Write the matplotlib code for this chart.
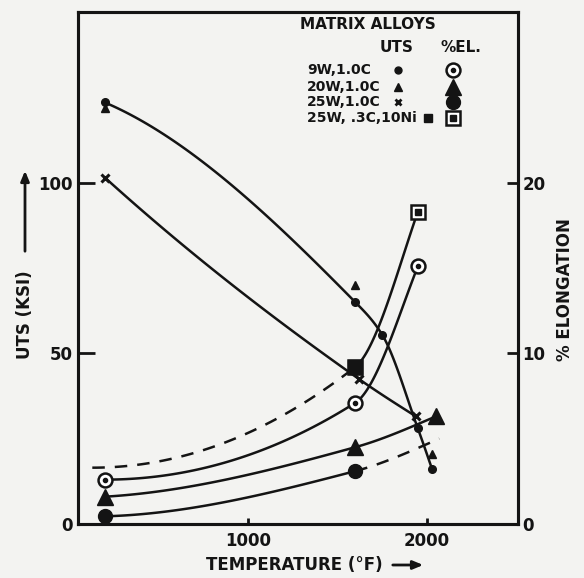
import numpy as np
import matplotlib
matplotlib.use("Agg")
import matplotlib.pyplot as plt

# temperature in deg F, UTS in ksi (left axis), elongation in % (right axis)
uts_9w_t = [200, 1600, 1750, 1950, 2030]
uts_9w = [123.5, 65, 55.5, 28, 16]
uts_20w_t = [200, 1600, 2030]
uts_20w = [122, 70, 20.5]
uts_25w_t = [200, 1620, 1940]
uts_25w = [101.5, 42.5, 31.5]
uts_ni_t = [1600]
uts_ni = [46]

el_9w_t = [200, 1600, 1950]
el_9w = [2.6, 7.1, 15.1]
el_20w_t = [200, 1600, 2050]
el_20w = [1.6, 4.5, 6.3]
el_25w_t = [200, 1600, 2070]      # last point is the dashed trend end
el_25w = [0.45, 3.1, 5.0]
el_ni_t = [130, 1600, 1950]       # first point is the dashed trend start
el_ni = [3.3, 9.2, 18.3]

alloys = ["9W,1.0C", "20W,1.0C", "25W,1.0C", "25W, .3C,10Ni"]

INK = "#141414"
PAPER = "#f3f3f1"


def end_slope(h0, h1, s0, s1):
    d = ((2 * h0 + h1) * s0 - h0 * s1) / (h0 + h1)
    if np.sign(d) != np.sign(s0):
        return 0.0
    if np.sign(s0) != np.sign(s1) and abs(d) > 3 * abs(s0):
        return 3 * s0
    return d


def smooth_segments(x, y, n=60):
    # monotone cubic through the points, one array pair per segment
    x = np.asarray(x, float)
    y = np.asarray(y, float)
    h = np.diff(x)
    s = np.diff(y) / h
    m = np.zeros_like(y)
    if len(x) == 2:
        m[:] = s[0]
    else:
        for k in range(1, len(x) - 1):
            if s[k - 1] * s[k] > 0:
                w1 = 2 * h[k] + h[k - 1]
                w2 = h[k] + 2 * h[k - 1]
                m[k] = (w1 + w2) / (w1 / s[k - 1] + w2 / s[k])
        m[0] = end_slope(h[0], h[1], s[0], s[1])
        m[-1] = end_slope(h[-1], h[-2], s[-1], s[-2])
    segs = []
    for k in range(len(x) - 1):
        t = np.linspace(0, 1, n)
        h00 = 2 * t**3 - 3 * t**2 + 1
        h10 = t**3 - 2 * t**2 + t
        h01 = -2 * t**3 + 3 * t**2
        h11 = t**3 - t**2
        yy = h00 * y[k] + h10 * h[k] * m[k] + h01 * y[k + 1] + h11 * h[k] * m[k + 1]
        segs.append((x[k] + t * h[k], yy))
    return segs


def draw_curve(ax, x, y, dashed=()):
    for k, (sx, sy) in enumerate(smooth_segments(x, y)):
        ls = (0, (5, 4)) if k in dashed else "-"
        ax.plot(sx, sy, color=INK, lw=1.8, ls=ls, solid_capstyle="round")


fig = plt.figure(figsize=(5.84, 5.78), dpi=100, facecolor=PAPER)
ax = fig.add_axes([78 / 584, 1 - 524 / 578, 440 / 584, 512 / 578])
ax2 = ax.twinx()
# UTS axis drawn on top of the elongation axis
ax.set_zorder(ax2.get_zorder() + 1)
ax.patch.set_visible(False)

ax.set_xlim(50, 2510)
ax.set_ylim(0, 150)
ax2.set_ylim(0, 30)

# elongation curves
draw_curve(ax2, el_9w_t, el_9w)
draw_curve(ax2, el_20w_t, el_20w)
draw_curve(ax2, el_25w_t, el_25w, dashed=(1,))
draw_curve(ax2, el_ni_t, el_ni, dashed=(0,))

ax2.plot(el_9w_t, el_9w, "o", mfc="white", mec=INK, mew=1.8, ms=10, zorder=5)
ax2.plot(el_9w_t, el_9w, "o", color=INK, ms=3, zorder=6)
ax2.plot(el_20w_t, el_20w, "^", color=INK, ms=11, zorder=5)
ax2.plot(el_25w_t[:2], el_25w[:2], "o", color=INK, ms=10, zorder=5)
ax2.plot(el_ni_t[1:], el_ni[1:], "s", mfc="white", mec=INK, mew=1.8, ms=10, zorder=5)
ax2.plot(el_ni_t[1:], el_ni[1:], "s", color=INK, ms=4.5, zorder=6)

# UTS curves
draw_curve(ax, uts_9w_t, uts_9w)
draw_curve(ax, uts_25w_t, uts_25w)

ax.plot(uts_9w_t, uts_9w, "o", color=INK, ms=5.5, zorder=7)
ax.plot(uts_20w_t, uts_20w, "^", color=INK, ms=6, zorder=7)
ax.plot(uts_25w_t, uts_25w, "x", color=INK, ms=6, mew=2.2, zorder=7)
ax.plot(uts_ni_t, uts_ni, "s", color=INK, ms=10, zorder=7)

# axes styling
bold = dict(fontweight="heavy", fontfamily="DejaVu Sans", color=INK)
for a in (ax, ax2):
    for sp in a.spines.values():
        sp.set_linewidth(2.2)
        sp.set_color(INK)

ax.set_xticks([1000, 2000])
ax.set_xticklabels(["1000", "2000"], **bold, fontsize=12)
ax.set_yticks([0, 50, 100])
ax.set_yticklabels(["0", "50", "100"], **bold, fontsize=12)
ax2.set_yticks([0, 10, 20])
ax2.set_yticklabels(["0", "10", "20"], **bold, fontsize=12)

ax.tick_params(axis="y", direction="in", length=12, width=2, pad=4, color=INK)
ax.tick_params(axis="x", direction="in", length=4.5, width=2, pad=6, color=INK)
ax2.tick_params(axis="y", direction="in", length=8, width=2, pad=3, color=INK)

# axis titles with arrows
fig.text(25 / 584, 1 - 315 / 578, "UTS (KSI)", rotation=90, ha="center", va="center",
         fontsize=12, **bold)
fig.add_artist(matplotlib.patches.FancyArrowPatch(
    (25 / 584, 1 - 254 / 578), (25 / 584, 1 - 168 / 578), transform=fig.transFigure,
    arrowstyle="-|>,head_length=6,head_width=2.5", color=INK, lw=2))
fig.text(294 / 584, 1 - 565 / 578, "TEMPERATURE (°F)", ha="center", va="center",
         fontsize=12, **bold)
fig.add_artist(matplotlib.patches.FancyArrowPatch(
    (390 / 584, 1 - 565 / 578), (426 / 584, 1 - 565 / 578), transform=fig.transFigure,
    arrowstyle="-|>,head_length=6,head_width=2.5", color=INK, lw=2))
fig.text(565 / 584, 1 - 290 / 578, "% ELONGATION", rotation=90, ha="center", va="center",
         fontsize=12, **bold)

# legend block
tr = ax.transAxes
ax.text(0.505, 0.975, "MATRIX ALLOYS", transform=tr, ha="left", va="center", fontsize=11, **bold)
ax.text(0.686, 0.93, "UTS", transform=tr, ha="left", va="center", fontsize=11, **bold)
ax.text(0.823, 0.93, "%EL.", transform=tr, ha="left", va="center", fontsize=11, **bold)
rows_y = [0.887, 0.854, 0.824, 0.793]
for name, ry in zip(alloys, rows_y):
    ax.text(0.52, ry, name, transform=tr, ha="left", va="center", fontsize=10, **bold)
kw = dict(transform=tr, clip_on=False, zorder=6)
ax.plot(0.727, rows_y[0], "o", color=INK, ms=5, **kw)
ax.plot(0.727, rows_y[1], "^", color=INK, ms=6, **kw)
ax.plot(0.727, rows_y[2], "x", color=INK, ms=5, mew=2, **kw)
ax.plot(0.795, rows_y[3], "s", color=INK, ms=6, **kw)
ax.plot(0.852, rows_y[0], "o", mfc="white", mec=INK, mew=1.8, ms=10, **kw)
ax.plot(0.852, rows_y[0], "o", color=INK, ms=3, **kw)
ax.plot(0.852, rows_y[1], "^", color=INK, ms=11, **kw)
ax.plot(0.852, rows_y[2], "o", color=INK, ms=10, **kw)
ax.plot(0.852, rows_y[3], "s", mfc="white", mec=INK, mew=1.8, ms=10, **kw)
ax.plot(0.852, rows_y[3], "s", color=INK, ms=4.5, **kw)

fig.savefig("out.png", dpi=100, facecolor=PAPER)
